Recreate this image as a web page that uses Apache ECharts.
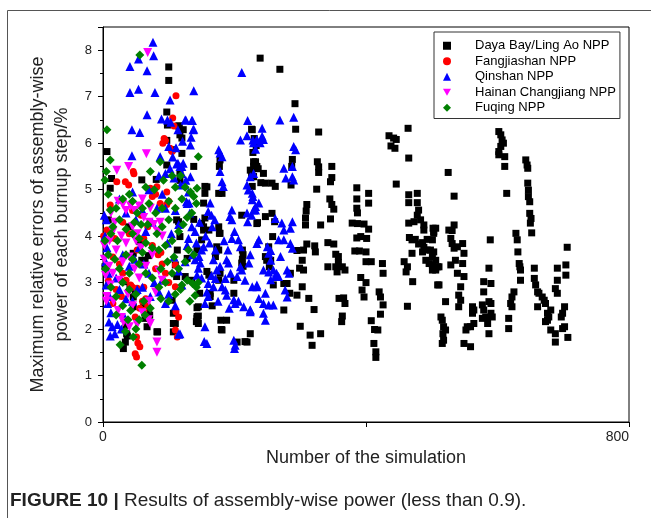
<!DOCTYPE html>
<html><head><meta charset="utf-8">
<script src="https://cdn.jsdelivr.net/npm/echarts@6/dist/echarts.min.js"></script>
<style>html,body{margin:0;padding:0;background:#fff}#c{width:651px;height:518px}</style>
</head><body><div id="c"></div>
<script>
const seriesNames = ["Daya Bay/Ling Ao NPP","Fangjiashan NPP","Qinshan NPP","Hainan Changjiang NPP","Fuqing NPP"];
const xTickLabels = [0, 800];
const yTickLabels = [0,1,2,3,4,5,6,7,8];

const dayaBay = [[6,5.82],[13,5.24],[11,5.03],[8,4.35],[3,3.34],[100,7.64],[100,7.35],[97,6.67],[98,6.39],[115,6.37],[117,6.18],[97,6.06],[105,5.86],[120,5.78],[138,5.5],[117,5.35],[97,5.53],[81,5.22],[117,5.2],[158,5.06],[155,4.92],[138,4.36],[150,4.27],[153,4.13],[150,3.92],[143,3.7],[115,4.31],[117,3.99],[113,3.7],[128,3.52],[110,3.38],[112,3.13],[125,3.13],[135,3.05],[39,4.2],[56,3.88],[46,3.63],[59,3.48],[31,3.02],[41,2.91],[49,2.8],[46,2.69],[62,2.55],[69,2.41],[71,2.3],[64,2.23],[67,2.05],[83,1.94],[35,2.08],[36,1.9],[34,1.72],[31,1.58],[107,2.34],[110,2.12],[105,2.62],[143,2.23],[142,2.16],[145,2.28],[179,2.19],[180,1.99],[204,1.72],[219,1.72],[224,1.9],[143,2.46],[166,2.5],[147,2.77],[163,2.77],[178,3.2],[176,3.05],[199,3.05],[199,2.77],[212,3.7],[213,3.6],[212,3.5],[211,3.42],[213,3.35],[176,4.2],[177,4.06],[176,3.7],[178,5.64],[177,5.5],[181,4.92],[211,4.45],[227,6.29],[224,5.42],[226,5.35],[229,5.28],[229,5.6],[234,5.5],[234,4.27],
[59,5.21],[112,4.35],[46,2.48],[82,1.94],[107,2.12],[107,1.94],[64,3.48],[69,3.58],[116,6.37],[122,6.29],[120,6.11],[155,5.07],[153,4.71],[155,4.39],[153,4.2],[161,4.13],[176,4.92],[178,4.06],[173,3.77],[171,3.56],[158,3.24],[161,3.16],[163,2.7],[145,2.48],[143,2.27],[145,2.12],[188,2.19],[181,1.98],[216,1.73],[229,5.5],[228,5.28],[227,5.07],[37,1.85],
[239,7.83],[269,7.59],[292,6.85],[293,6.30],[328,6.24],[435,6.16],[442,6.11],[446,6.08],[438,5.94],[444,5.89],[464,6.32],[465,5.68],[446,5.12],
[226,6.3],[230,6.1],[233,5.95],[228,5.8],[232,5.6],[236,5.45],[240,5.15],
[326,5.6],[328,5.49],[328,5.37],[348,5.5],[348,5.26],[346,5.17],[325,5.01],[386,5.04],[404,4.92],[404,4.71],[386,4.8],[386,4.6],[387,4.5],[345,4.8],[348,4.68],[351,4.58],[310,4.68],[309,4.54],[308,4.39],[308,4.24],[346,4.37],[331,4.24],
[379,4.28],[387,4.27],[397,4.26],[404,4.15],[392,3.99],[386,3.96],[401,3.95],[383,3.68],[390,3.68],[400,3.66],
[465,4.89],[478,4.92],[465,4.72],[478,4.72],[480,4.56],[478,4.45],[483,4.35],[473,4.31],[465,4.28],[488,4.24],[488,4.13],[502,4.17],[503,4.06],[466,3.97],[470,3.92],[475,3.93],[480,3.83],[486,3.86],[493,3.93],[488,3.76],[486,3.66],[493,3.7],[470,3.63],[498,3.7],[501,3.56],[491,3.48],[496,3.41],[501,3.38],[506,3.31],[511,3.34],[501,3.27],[458,3.45],[463,3.34],[461,3.23],[471,3.02],[463,2.49],[509,2.95],
[425,3.41],[426,3.2],[400,3.45],[408,3.45],[392,3.11],[400,3.0],[420,2.8],[422,2.69],[426,2.52],[422,2.32],[408,2.18],[413,1.99],[418,1.98],[412,1.69],[415,1.51],[415,1.39],[394,2.84],[397,2.69],
[359,2.66],[366,2.67],[368,2.55],[364,2.28],[363,2.16],[342,3.34],[354,3.34],[356,3.23],[364,3.34],[368,3.27],[358,3.43],[342,3.86],[351,3.83],[354,3.61],[358,3.56],[322,3.79],[323,3.66],[310,3.83],[305,3.7],[295,3.69],[303,3.48],[305,3.27],[299,3.31],[303,2.91],[313,2.66],[321,2.42],[300,2.06],[315,1.87],[318,1.65],[331,1.9],[275,2.41],[285,3.2],[277,2.98],[284,2.77],[295,2.73],
[235,4.29],[247,4.42],[257,4.49],[261,4.31],[258,3.99],[252,3.77],[249,3.48],[247,3.56],[255,3.48],[253,3.34],[259,2.95],[275,2.98],[280,2.98],[244,5.35],[247,5.14],[257,5.14],[262,5.07],[288,5.65],[287,5.5],[286,5.1],
[602,6.25],[605,6.18],[607,6.07],[609,6.0],[605,5.93],[602,5.82],[602,5.75],[611,5.71],[611,5.5],[614,4.92],[525,5.37],[534,4.86],[643,5.64],[645,5.53],[646,5.46],[646,5.14],[647,4.99],[647,4.85],[649,4.74],[649,4.49],[651,4.38],[650,4.28],[652,4.07],[506,4.17],[503,4.1],[501,3.92],[503,3.66],[506,3.48],[509,3.34],[506,3.27],[534,4.24],[526,4.13],[531,4.12],[529,3.95],[531,3.84],[534,3.74],[539,3.77],[547,3.84],[549,3.63],[536,3.48],[547,3.41],[539,3.2],[549,3.13],[529,3.38],[511,2.95],[544,2.91],[541,2.73],[544,2.62],[541,2.48],[521,2.59],[514,2.26],[516,2.19],[518,2.05],[521,1.98],[517,1.9],[518,1.76],[516,1.69],[562,2.48],[564,2.41],[562,2.34],[577,2.52],[579,2.41],[582,2.26],[577,2.23],[590,2.34],[592,2.26],[587,2.59],[554,2.05],[552,1.98],[559,2.05],[564,2.12],[585,2.12],[587,1.9],[549,1.69],[559,1.62],[589,3.92],[587,3.31],[579,3.02],[590,2.98],[579,2.8],[590,2.55],[628,4.06],[630,3.92],[631,3.66],[633,3.41],[634,3.34],[635,3.27],[635,3.05],[625,2.8],[622,2.69],[620,2.55],[622,2.48],[617,2.23],[617,2.01],[656,3.31],[656,3.09],[658,2.95],[661,2.8],[663,2.77],[668,2.69],[671,2.62],[673,2.55],[661,2.48],[676,2.34],[678,2.26],[681,2.41],[673,2.16],[676,2.19],[681,1.98],[688,1.9],[688,1.72],[691,3.31],[691,3.05],[688,2.87],[691,2.77],[704,3.16],[704,3.38],[706,3.76],[702,2.48],[699,2.34],[697,2.26],[702,2.05],[699,2.01],[707,1.82]];

const fangjiashan = [[111,7.02],[106,6.54],[108,6.37],[93,6.1],[95,6.05],[91,6.0],[102,5.89],[105,5.82],[46,5.39],[47,5.34],[34,5.17],[39,5.1],[21,5.17],[11,4.67],[72,5.03],[82,5.06],[80,4.9],[75,4.85],[97,4.95],[100,4.75],[87,4.7],[97,4.68],[6,4.13],[1,4.0],[10,3.95],[40,4.05],[52,3.7],[62,3.95],[75,3.8],[84,3.6],[88,3.65],[90,3.4],[110,3.38],[110,2.91],[111,2.37],[115,2.26],[110,1.98],[113,1.83],[51,1.83],[53,1.7],[56,1.62],[49,1.47],[51,1.4],[49,2.26],[52,2.2],[56,2.45],[62,2.4],[60,2.6],[65,2.65],[45,2.9],[52,2.88],[62,2.9],[28,2.7],[20,2.85],[30,3.2],[25,3.4],[15,3.55],[18,3.95],[30,4.3],[45,4.55],[58,4.45],[68,4.2],[35,3.05],[42,2.95],[68,2.5],[80,3.3],[95,3.2],[100,3.0],[15,2.55],[8,3.05]];

const qinshan = [[76,8.17],[77,7.88],[54,7.81],[41,7.65],[67,7.56],[41,7.09],[54,7.16],[79,7.09],[102,6.93],[67,6.61],[44,6.29],[56,6.23],[89,6.52],[98,6.5],[103,6.45],[125,6.5],[135,6.49],[137,6.29],[138,7.13],[211,7.52],[44,5.73],[87,5.71],[100,5.93],[111,5.9],[106,5.7],[112,5.55],[102,5.45],[120,5.5],[95,5.35],[85,5.3],[108,5.25],[118,5.1],[126,5.2],[130,4.95],[128,4.7],[132,4.5],[135,4.2],[130,3.95],[128,3.8],[136,3.6],[125,3.45],
[2,4.45],[5,4.35],[3,4.0],[6,3.75],[4,3.45],[8,3.2],[5,2.95],[10,2.7],[7,2.55],[12,2.35],[9,2.15],[14,2.05],[11,1.85],[18,1.9],[22,2.1],[28,2.0],[33,2.25],
[20,3.1],[25,2.85],[35,2.65],[45,2.6],[52,2.85],[60,2.9],[40,3.35],[48,3.5],[30,3.6],[55,3.75],[62,3.4],[70,3.2],[78,3.0],[72,2.7],[85,2.8],[90,3.05],[95,2.55],[100,2.75],[65,4.1],[75,4.3],[82,4.6],[60,4.55],[50,4.35],[35,4.5],[25,4.8],[45,4.95],[70,5.0],[90,4.9],[95,4.6],[110,4.55],[115,4.25],[104,4.05],[98,3.85],[108,3.55],[115,3.25],[120,2.95],[117,1.9],[110,2.5],
[126,6.5],[136,6.49],[138,6.3],[220,6.49],[209,6.07],[219,6.16],[228,6.07],[114,6.29],[121,6.04],[134,6.13],[133,5.96],[176,5.86],[178,5.79],[181,5.71],[114,5.57],[117,5.5],[122,5.57],[120,5.35],[133,5.28],[131,4.71],[127,4.74],[178,5.39],[181,5.17],[183,5.07],[219,5.1],[221,4.99],[228,4.85],[163,4.71],[160,4.53],[165,4.45],[196,4.56],[193,4.42],[196,4.35],[219,4.5],[220,4.31],[226,4.45],[232,4.56],[153,3.77],[150,3.7],[146,3.56],[148,3.42],[171,3.7],[168,3.49],[173,3.27],[171,3.09],[188,3.49],[191,3.42],[186,3.09],[206,3.92],[209,3.77],[204,3.13],[209,3.34],[216,3.05],[211,3.27],[224,3.6],[222,3.42],[140,3.49],[145,3.31],[143,3.16],[160,2.98],[158,2.8],[168,2.91],[160,2.7],[155,2.55],[181,2.91],[186,2.84],[188,2.73],[199,2.63],[201,2.55],[206,2.6],[214,2.48],[224,2.37],[155,2.05],[154,1.73],[158,1.69],[199,1.76],[201,1.65],[200,1.58],[115,1.89],
[227,2.91],[224,2.41],[234,2.95],[229,4.56],[156,4.0],[162,3.85],[166,4.2],[170,4.35],[184,3.9],[190,3.7],[196,3.95],[200,4.1],[178,3.35],[194,3.2],[150,3.1],[165,3.15],[175,2.6],[192,2.45],[140,4.1],[147,4.3],[142,3.85],
[269,6.5],[290,6.56],[242,6.32],[242,6.15],[234,6.08],[229,6.01],[239,6.01],[232,5.87],[244,6.08],[290,5.93],[293,5.86],[288,5.5],[275,5.46],[278,5.25],[288,5.28],[290,5.21],[224,5.28],[229,5.35],[227,4.92],[227,4.78],[237,4.71],[232,4.64],[262,4.38],[272,4.28],[275,4.13],[288,4.31],[285,4.17],[275,3.92],[285,3.84],[288,3.74],[267,3.92],[234,3.84],[237,3.92],[250,3.77],[255,3.69],[252,3.63],[255,3.48],[270,3.56],[244,3.27],[252,3.23],[259,3.27],[264,3.2],[262,3.13],[255,3.06],[267,3.13],[280,3.27],[283,3.2],[277,2.84],[280,2.69],[234,2.91],[247,2.77],[244,2.55],[252,2.52],[259,2.52],[237,2.66],[244,2.34],[247,2.19],[224,2.41]];

const hainan = [[68,7.95],[66,5.77],[39,5.5],[21,5.42],[23,4.75],[30,4.68],[35,4.55],[42,4.65],[48,4.55],[55,4.65],[62,4.4],[70,4.3],[77,4.25],[87,4.3],[90,4.0],[83,4.1],[45,4.2],[52,4.05],[2,3.5],[9,3.35],[4,3.15],[11,2.95],[6,2.7],[16,2.6],[23,2.4],[28,2.25],[31,2.15],[82,1.72],[82,1.5],[69,2.2],[72,2.12],[50,3.9],[58,3.75],[35,3.85],[28,4.0],[15,4.1],[10,3.9],[20,3.7],[30,3.45],[40,3.55],[48,3.3],[55,3.1],[65,3.35],[75,3.6],[85,3.25],[90,3.05],[80,2.8],[70,2.6],[60,2.35],[45,2.5],[38,2.75],[25,3.05],[15,3.2],[5,2.6],[2,3.8],[12,4.5],[18,4.3],[60,4.8],[72,4.6],[52,2.1],[40,2.05]];

const fuqing = [[56,7.9],[6,6.29],[11,5.64],[5,5.39],[3,5.21],[8,4.9],[11,4.56],[145,5.71],[143,5.03],[138,4.85],[87,5.6],[72,5.39],[59,1.22],[26,1.66],[46,1.83],[50,2.0],[55,2.2],[38,2.2],[30,2.5],[20,2.7],[12,2.9],[4,3.3],[8,3.6],[3,3.9],[15,4.2],[20,4.6],[30,4.8],[40,4.9],[45,4.75],[52,4.5],[60,4.6],[25,4.35],[35,4.15],[45,4.05],[55,3.95],[65,3.85],[75,3.75],[85,3.7],[95,3.8],[105,3.9],[115,4.1],[122,4.25],[128,4.4],[135,4.5],[142,4.7],[110,4.6],[100,4.35],[90,4.2],[80,4.5],[70,4.7],[65,5.05],[78,5.0],[92,5.2],[105,5.3],[120,4.8],[130,3.7],[138,3.6],[125,3.45],[115,3.3],[105,3.2],[95,3.0],[85,2.9],[75,3.1],[65,3.2],[55,3.4],[45,3.5],[35,3.6],[25,3.3],[18,3.5],[30,3.0],[40,2.85],[50,2.75],[62,2.6],[72,2.45],[88,2.65],[100,2.6],[110,2.75],[120,2.95],[128,3.05],[136,2.98],[142,2.9],[145,3.0],[140,2.72],[132,2.6],[118,2.85],[108,3.55],[98,3.45],[88,3.3],[60,3.65],[40,3.2],[22,3.9],[12,4.05],[68,4.25],[82,4.05],[110,5.05],[118,5.3],[125,5.05],[133,4.95],[64,2.3],[42,2.4],[34,1.95],[20,2.3],[58,4.25],[48,4.3],[100,4.75],[90,4.6]];

const FONT = "'Liberation Sans', Arial, sans-serif";
const DOWN_TRIANGLE = 'path://M0,0L10,0L5,9Z';
const chart = echarts.init(document.getElementById('c'), null, {renderer:'canvas'});
chart.setOption({
  animation:false,
  backgroundColor:'#fff',
  grid:{left:103, top:27, right:22, bottom:96, show:true, borderColor:'#000', borderWidth:1},
  legend:{
    orient:'vertical', left:434, top:32,
    data:seriesNames,
    borderColor:'#333', borderWidth:1, borderRadius:0,
    padding:[6,4,3,9], itemGap:0, itemWidth:8, itemHeight:8,
    textStyle:{fontFamily:FONT, fontSize:13, color:'#000', lineHeight:15.5, padding:[0,0,0,19]}
  },
  xAxis:{
    type:'value', min:0, max:800, interval:400,
    name:'Number of the simulation', nameLocation:'middle', nameGap:19,
    nameTextStyle:{fontFamily:FONT, fontSize:18, color:'#222'},
    axisLine:{show:true, lineStyle:{color:'#000', width:1}},
    axisTick:{show:true, inside:false, length:5, lineStyle:{color:'#000'}},
    axisLabel:{fontFamily:FONT, fontSize:14, color:'#222', margin:8, alignMaxLabel:'right',
      formatter:v => xTickLabels.indexOf(v) >= 0 ? String(v) : ''},
    splitLine:{show:false}
  },
  yAxis:{
    type:'value', min:0, max:8.5, interval:1,
    name:'Maximum relative errors of assembly-wise\npower of each burnup step/%',
    nameLocation:'middle', nameGap:28, nameRotate:90,
    nameTextStyle:{fontFamily:FONT, fontSize:18, color:'#222', lineHeight:24},
    axisLine:{show:true, lineStyle:{color:'#000', width:1}},
    axisTick:{show:true, inside:false, length:5, lineStyle:{color:'#000'}},
    minorTick:{show:true, splitNumber:2, length:3, lineStyle:{color:'#000'}},
    axisLabel:{fontFamily:FONT, fontSize:13, color:'#222', margin:11,
      formatter:v => yTickLabels.indexOf(v) >= 0 ? String(v) : ''},
    splitLine:{show:false}
  },
  graphic:[
    {type:'line', shape:{x1:7.5,y1:10.5,x2:651,y2:10.5}, style:{stroke:'#555', lineWidth:1}, silent:true},
    {type:'line', shape:{x1:7.5,y1:10.5,x2:7.5,y2:518}, style:{stroke:'#555', lineWidth:1}, silent:true},
    {type:'text', left:10, top:491, silent:true,
     style:{text:'{b|FIGURE 10 |} Results of assembly-wise power (less than 0.9).',
       font:"19px 'Liberation Sans', Arial, sans-serif", fill:'#222',
       rich:{b:{fontWeight:'bold', fontSize:19, fontFamily:FONT, fill:'#222'}}}}
  ],
  series:[
    {name:seriesNames[0], type:'scatter', data:dayaBay, symbol:'rect', symbolSize:7, itemStyle:{color:'#000', opacity:1}},
    {name:seriesNames[1], type:'scatter', data:fangjiashan, symbol:'circle', symbolSize:7, itemStyle:{color:'#ff0000', opacity:1}},
    {name:seriesNames[2], type:'scatter', data:qinshan, symbol:'triangle', symbolSize:9, itemStyle:{color:'#0000ff', opacity:1}},
    {name:seriesNames[3], type:'scatter', data:hainan, symbol:DOWN_TRIANGLE, symbolSize:9, itemStyle:{color:'#ff00ff', opacity:1}},
    {name:seriesNames[4], type:'scatter', data:fuqing, symbol:'diamond', symbolSize:9, itemStyle:{color:'#008000', opacity:1}}
  ]
});
</script></body></html>
